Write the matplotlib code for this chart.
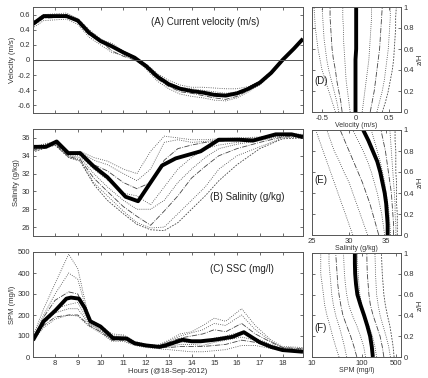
import matplotlib
matplotlib.use("Agg")
import matplotlib.pyplot as plt

# ---------------- data ----------------
hours_a = [7.0, 7.5, 8.0, 8.5, 9.0, 9.5, 10.0, 10.5, 11.0, 11.5, 12.0, 12.5, 13.0,
           13.5, 14.0, 14.5, 15.0, 15.5, 16.0, 16.5, 17.0, 17.5, 18.0, 18.5, 18.9]
vel_mean = [0.47, 0.58, 0.58, 0.58, 0.52, 0.36, 0.25, 0.18, 0.10, 0.03, -0.08, -0.22, -0.32,
            -0.38, -0.41, -0.43, -0.46, -0.47, -0.44, -0.38, -0.30, -0.17, 0.0, 0.15, 0.28]
vel_layers = [
    [0.50, 0.60, 0.61, 0.62, 0.55, 0.40, 0.28, 0.20, 0.10, 0.02, -0.12, -0.28, -0.38,
     -0.45, -0.48, -0.50, -0.53, -0.54, -0.50, -0.42, -0.33, -0.19, -0.02, 0.14, 0.27],
    [0.42, 0.52, 0.53, 0.54, 0.47, 0.30, 0.20, 0.10, 0.06, 0.02, -0.05, -0.18, -0.27,
     -0.33, -0.36, -0.36, -0.37, -0.38, -0.38, -0.35, -0.28, -0.15, 0.0, 0.14, 0.26],
    [0.45, 0.55, 0.56, 0.60, 0.50, 0.33, 0.25, 0.12, 0.05, 0.0, -0.10, -0.25, -0.35,
     -0.42, -0.44, -0.47, -0.50, -0.52, -0.48, -0.40, -0.31, -0.17, 0.0, 0.15, 0.27],
    [0.48, 0.57, 0.59, 0.59, 0.53, 0.38, 0.27, 0.22, 0.12, 0.04, -0.06, -0.20, -0.30,
     -0.36, -0.38, -0.40, -0.42, -0.44, -0.42, -0.37, -0.29, -0.16, 0.01, 0.15, 0.28],
]

hours_b_mean = [7.0, 7.6, 8.07, 8.58, 9.1, 9.7, 10.3, 11.1, 11.65, 12.2, 12.7, 13.3,
                14.4, 15.2, 16.1, 16.7, 17.7, 18.4, 18.9]
sal_mean = [35.0, 35.0, 35.6, 34.3, 34.3, 32.8, 31.6, 29.4, 28.9, 31.0, 32.9, 33.7,
            34.5, 35.8, 35.8, 35.7, 36.4, 36.4, 36.1]
hours_b = [7.0, 8.0, 8.6, 9.1, 9.7, 10.3, 11.0, 11.6, 12.2, 12.8, 13.4, 14.0, 14.6,
           15.2, 16.0, 17.0, 18.0, 18.9]
sal_layers = [
    [35.0, 35.6, 34.2, 34.5, 33.8, 33.4, 32.5, 32.0, 34.5, 36.2, 36.0, 35.8, 35.8, 35.9, 36.0, 36.1, 36.5, 36.4],
    [35.0, 35.5, 34.3, 34.4, 33.5, 33.0, 32.0, 31.2, 32.5, 35.5, 35.8, 35.5, 35.6, 35.8, 35.9, 36.0, 36.4, 36.3],
    [34.8, 35.4, 34.1, 34.2, 33.0, 32.3, 31.0, 30.3, 31.0, 33.5, 34.8, 35.2, 35.5, 35.6, 35.8, 35.9, 36.4, 36.3],
    [34.9, 35.5, 34.0, 34.0, 32.5, 31.3, 29.8, 29.5, 28.5, 30.5, 32.5, 33.8, 34.8, 35.2, 35.5, 35.8, 36.3, 36.3],
    [34.7, 35.4, 34.0, 33.8, 32.0, 30.5, 29.0, 28.0, 28.0, 29.0, 31.0, 32.5, 33.8, 34.8, 35.3, 35.7, 36.2, 36.3],
    [34.6, 35.3, 33.9, 33.6, 31.5, 30.0, 28.3, 27.2, 26.2, 27.8, 29.5, 31.5, 32.8, 34.0, 34.8, 35.5, 36.1, 36.2],
    [34.5, 35.2, 33.8, 33.5, 31.0, 29.5, 27.8, 26.5, 25.9, 26.0, 27.5, 29.0, 30.5, 32.5, 34.0, 35.0, 36.0, 36.1],
    [34.4, 35.2, 33.8, 33.4, 30.8, 29.0, 27.5, 26.3, 25.7, 25.6, 26.5, 28.0, 29.5, 31.2, 33.0, 34.8, 35.9, 36.0],
]

hours_c_mean = [7.03, 7.5, 8.0, 8.5, 8.7, 9.05, 9.3, 9.55, 10.0, 10.55, 11.15, 11.5, 12.0,
                12.6, 13.0, 13.6, 14.0, 14.4, 15.0, 15.3, 15.8, 16.3, 17.0, 17.5, 18.0, 18.9]
spm_mean = [80, 170, 220, 278, 283, 278, 235, 170, 145, 90, 88, 65, 55,
            48, 60, 82, 75, 75, 82, 87, 96, 118, 70, 48, 33, 25]
hours_c = [7.0, 7.5, 8.0, 8.6, 9.0, 9.5, 10.0, 10.5, 11.0, 11.5, 12.0, 12.5, 13.0,
           13.5, 14.0, 14.5, 15.0, 15.5, 16.2, 16.8, 17.5, 18.0, 18.9]
spm_layers = [
    [90, 230, 350, 490, 420, 180, 150, 110, 105, 75, 60, 55, 80, 110, 120, 150, 185, 170, 230, 150, 80, 50, 45],
    [85, 200, 300, 400, 370, 175, 140, 100, 100, 70, 58, 55, 75, 100, 115, 130, 160, 150, 200, 130, 75, 45, 40],
    [80, 190, 270, 310, 300, 170, 140, 95, 95, 70, 55, 50, 70, 90, 100, 110, 130, 120, 160, 110, 70, 45, 38],
    [80, 170, 230, 250, 260, 160, 130, 85, 85, 65, 55, 48, 55, 70, 70, 70, 90, 100, 120, 90, 60, 40, 35],
    [78, 160, 210, 230, 230, 155, 125, 80, 85, 62, 52, 45, 50, 60, 60, 55, 70, 80, 95, 80, 55, 38, 30],
    [75, 150, 190, 200, 200, 150, 120, 80, 80, 60, 50, 45, 45, 50, 50, 50, 55, 60, 80, 70, 50, 35, 30],
    [75, 140, 180, 200, 195, 145, 115, 75, 75, 55, 45, 40, 35, 30, 25, 25, 30, 35, 55, 55, 40, 30, 25],
]

z_h = [0.0, 0.1, 0.2, 0.3, 0.4, 0.5, 0.6, 0.7, 0.8, 0.9, 1.0]
vel_prof_mean = [0.0, 0.0, 0.0, 0.0, 0.0, 0.0, 0.01, 0.01, 0.01, 0.01, 0.01]
vel_profiles = [
    [-0.30, -0.35, -0.40, -0.45, -0.50, -0.53, -0.56, -0.58, -0.60, -0.61, -0.62],
    [-0.25, -0.28, -0.32, -0.36, -0.40, -0.43, -0.45, -0.47, -0.48, -0.49, -0.50],
    [-0.20, -0.22, -0.25, -0.28, -0.30, -0.33, -0.35, -0.36, -0.37, -0.38, -0.38],
    [-0.08, -0.10, -0.12, -0.14, -0.15, -0.16, -0.17, -0.18, -0.18, -0.19, -0.19],
    [0.10, 0.12, 0.14, 0.16, 0.18, 0.20, 0.21, 0.22, 0.23, 0.24, 0.24],
    [0.22, 0.25, 0.28, 0.30, 0.32, 0.34, 0.36, 0.37, 0.38, 0.39, 0.40],
    [0.32, 0.36, 0.40, 0.43, 0.45, 0.47, 0.49, 0.50, 0.51, 0.52, 0.52],
    [0.40, 0.45, 0.49, 0.52, 0.55, 0.57, 0.58, 0.59, 0.60, 0.60, 0.61],
]
sal_prof_mean = [35.2, 35.2, 35.1, 35.0, 34.8, 34.5, 34.2, 33.8, 33.2, 32.6, 31.9]
sal_profiles = [
    [30.5, 30.0, 29.5, 29.0, 28.5, 28.0, 27.5, 27.0, 26.5, 26.0, 25.5],
    [32.5, 32.0, 31.5, 31.0, 30.5, 30.0, 29.3, 28.7, 28.0, 27.5, 27.0],
    [34.0, 33.6, 33.2, 32.8, 32.3, 31.8, 31.2, 30.6, 30.0, 29.4, 28.8],
    [34.8, 34.6, 34.4, 34.1, 33.8, 33.4, 33.0, 32.5, 31.9, 31.2, 30.5],
    [35.6, 35.5, 35.4, 35.2, 35.0, 34.8, 34.5, 34.2, 33.8, 33.4, 33.0],
    [36.0, 36.0, 35.9, 35.8, 35.7, 35.5, 35.3, 35.1, 34.9, 34.6, 34.3],
    [36.3, 36.3, 36.2, 36.2, 36.1, 36.0, 35.9, 35.8, 35.7, 35.6, 35.5],
    [36.5, 36.5, 36.5, 36.4, 36.4, 36.4, 36.3, 36.3, 36.3, 36.2, 36.2],
]
spm_prof_mean = [168, 160, 148, 130, 112, 95, 82, 77, 74, 73, 73]
spm_profiles = [
    [35, 30, 26, 23, 20, 18, 17, 16, 15, 15, 15],
    [50, 45, 40, 35, 30, 27, 25, 24, 23, 22, 22],
    [80, 70, 60, 50, 42, 38, 35, 33, 32, 31, 30],
    [120, 110, 95, 80, 65, 55, 50, 47, 45, 44, 43],
    [200, 185, 165, 140, 115, 100, 92, 88, 85, 83, 82],
    [280, 260, 235, 200, 170, 150, 140, 135, 130, 128, 127],
    [380, 350, 310, 270, 235, 215, 200, 195, 190, 188, 185],
    [450, 430, 400, 370, 330, 300, 280, 270, 260, 255, 250],
]

hour_ticks = [8, 9, 10, 11, 12, 13, 14, 15, 16, 17, 18]

# ---------------- figure ----------------
plt.rcParams['font.family'] = ['Liberation Sans', 'DejaVu Sans']
fig = plt.figure(figsize=(4.28, 3.78), dpi=100)

W, H = 428.0, 378.0
def box(l, t, r, b):
    return [l / W, 1 - b / H, (r - l) / W, (b - t) / H]

axA = fig.add_axes(box(33, 7, 303, 113))
axB = fig.add_axes(box(33, 129, 303, 236))
axC = fig.add_axes(box(33, 252, 303, 357))
axD = fig.add_axes(box(312, 7, 401, 112))
axE = fig.add_axes(box(312, 130, 401, 235))
axF = fig.add_axes(box(312, 253, 401, 357))

TFS = 5.5
dstyles = [':', ':', '-.', ':', (0, (1, 1.5)), '-.', ':', (0, (2, 1.5))]
dcol = '#444444'
dlw = 0.6
thick = dict(color='black', lw=2.8, solid_capstyle='butt')

def style(ax):
    for s in ax.spines.values():
        s.set_color('#555555')
        s.set_linewidth(0.7)
    ax.tick_params(direction='in', length=2, width=0.5, labelsize=TFS,
                   colors='#333333', top=True, right=True, pad=2)

# A
for i, v in enumerate(vel_layers):
    axA.plot(hours_a, v, ls=dstyles[i], color=dcol, lw=dlw)
axA.plot(hours_a, vel_mean, **thick)
axA.axhline(0, color='#555555', lw=0.7)
axA.set_xlim(7.03, 18.9)
axA.set_ylim(-0.7, 0.7)
axA.set_yticks([-0.6, -0.4, -0.2, 0, 0.2, 0.4, 0.6])
axA.set_yticklabels(['-0.6', '-0.4', '-0.2', '0', '0.2', '0.4', '0.6'])
axA.set_xticks(hour_ticks)
axA.set_xticklabels([])
axA.set_ylabel('Velocity (m/s)', fontsize=TFS, color='#333333', labelpad=1)
axA.text(12.2, 0.5, '(A) Current velocity (m/s)', fontsize=7, color='#222222', va='center')
style(axA)

# B
for i, v in enumerate(sal_layers):
    axB.plot(hours_b, v, ls=dstyles[i], color=dcol, lw=dlw)
axB.plot(hours_b_mean, sal_mean, **thick)
axB.set_xlim(7.03, 18.9)
axB.set_ylim(25, 37)
axB.set_yticks([26, 28, 30, 32, 34, 36])
axB.set_xticks(hour_ticks)
axB.set_xticklabels([])
axB.set_ylabel('Salinity (g/kg)', fontsize=TFS, color='#333333', labelpad=1)
axB.text(14.8, 29.4, '(B) Salinity (g/kg)', fontsize=7, color='#222222', va='center')
style(axB)

# C
for i, v in enumerate(spm_layers):
    axC.plot(hours_c, v, ls=dstyles[i], color=dcol, lw=dlw)
axC.plot(hours_c_mean, spm_mean, **thick)
axC.set_xlim(7.03, 18.9)
axC.set_ylim(0, 500)
axC.set_yticks([0, 100, 200, 300, 400, 500])
axC.set_xticks(hour_ticks)
axC.set_ylabel('SPM (mg/l)', fontsize=TFS, color='#333333', labelpad=1)
axC.set_xlabel('Hours (@18-Sep-2012)', fontsize=TFS, color='#333333', labelpad=1)
axC.text(14.8, 420, '(C) SSC (mg/l)', fontsize=7, color='#222222', va='center')
style(axC)

# right panels
def style_r(ax):
    style(ax)
    ax.yaxis.tick_right()
    ax.yaxis.set_label_position('right')
    ax.tick_params(left=True, right=True, labelleft=False, labelright=True)
    ax.set_ylim(0, 1)
    ax.set_yticks([0, 0.2, 0.4, 0.6, 0.8, 1.0])
    ax.set_yticklabels(['0', '0.2', '0.4', '0.6', '0.8', '1'])
    ax.set_ylabel('z/H', fontsize=TFS, color='#333333', labelpad=2)

for i, p in enumerate(vel_profiles):
    axD.plot(p, z_h, ls=dstyles[i], color=dcol, lw=dlw)
axD.plot(vel_prof_mean, z_h, **thick)
axD.set_xlim(-0.65, 0.68)
axD.set_xticks([-0.5, 0, 0.5])
axD.set_xticklabels(['-0.5', '0', '0.5'])
axD.set_xlabel('Velocity (m/s)', fontsize=5, color='#333333', labelpad=0.5)
axD.text(0.03, 0.3, '(D)', transform=axD.transAxes, fontsize=7, color='#222222', va='center')
style_r(axD)

for i, p in enumerate(sal_profiles):
    axE.plot(p, z_h, ls=dstyles[i], color=dcol, lw=dlw)
axE.plot(sal_prof_mean, z_h, **thick)
axE.set_xlim(25, 37)
axE.set_xticks([25, 30, 35])
axE.set_xlabel('Salinity (g/kg)', fontsize=5, color='#333333', labelpad=0.5)
axE.text(0.03, 0.52, '(E)', transform=axE.transAxes, fontsize=7, color='#222222', va='center')
style_r(axE)

for i, p in enumerate(spm_profiles):
    axF.plot(p, z_h, ls=dstyles[i], color=dcol, lw=dlw)
axF.plot(spm_prof_mean, z_h, **thick)
axF.set_xscale('log')
axF.set_xlim(10, 620)
axF.set_xticks([10, 100, 500])
axF.set_xticklabels(['10', '100', '500'])
axF.minorticks_off()
axF.set_xlabel('SPM (mg/l)', fontsize=5, color='#333333', labelpad=0.5)
axF.text(0.03, 0.28, '(F)', transform=axF.transAxes, fontsize=7, color='#222222', va='center')
style_r(axF)

fig.savefig('out.png', dpi=100)
